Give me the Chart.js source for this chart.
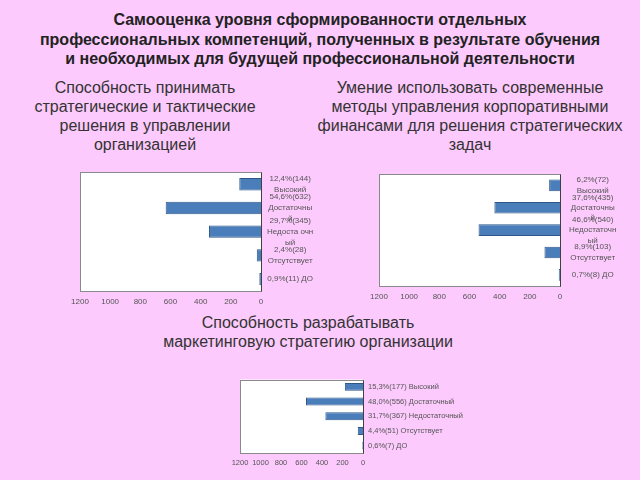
<!DOCTYPE html>
<html>
<head>
<meta charset="utf-8">
<script src="https://cdn.jsdelivr.net/npm/chart.js@4/dist/chart.umd.min.js"></script>
<style>
	html, body { margin: 0; padding: 0; }
	body { width: 640px; height: 480px; background: #fccafc; position: relative; overflow: hidden; font-family: 'Liberation Sans', Arial, sans-serif; color: #222; }
	.txt { position: absolute; text-align: center; white-space: nowrap; }
	.title { left: 0; width: 640px; top: 10px; font-size: 16px; font-weight: bold; line-height: 19.5px; }
	.sub { font-size: 16px; line-height: 19px; color: #333; }
	.box { position: absolute; }
</style>
</head>
<body>
<div class="txt title">Самооценка уровня сформированности отдельных<br>профессиональных компетенций, полученных в результате обучения<br>и необходимых для будущей профессиональной деятельности</div>
<div class="txt sub" style="left:23px; width:244px; top:78px;">Способность принимать<br>стратегические и тактические<br>решения в управлении<br>организацией</div>
<div class="txt sub" style="left:300px; width:340px; top:78px;">Умение использовать современные<br>методы управления корпоративными<br>финансами для решения стратегических<br>задач</div>
<div class="txt sub" style="left:138px; width:340px; top:313px;">Способность разрабатывать<br>маркетинговую стратегию организации</div>

<div class="box" style="left:66px; top:161px;"><canvas id="chart1" width="265" height="150"></canvas></div>
<div class="box" style="left:365px; top:160px;"><canvas id="chart2" width="270" height="146"></canvas></div>
<div class="box" style="left:226px; top:370px;"><canvas id="chart3" width="240" height="103"></canvas></div>

<script>
// tick values along the count axis (shown reversed, 1200 on the left)
var countTicks = [0, 200, 400, 600, 800, 1000, 1200];

// chart 1: strategic and tactical decisions
var labels1 = [
	['12,4%(144)', 'Высокий'],
	['54,6%(632)', 'Достаточны', 'й'],
	['29,7%(345)', 'Недоста очн', 'ый'],
	['2,4%(28)', 'Отсутствует'],
	'0,9%(11) ДО'
];
var values1 = [144, 632, 345, 28, 11];

// chart 2: corporate finance methods
var labels2 = [
	['6,2%(72)', 'Высокий'],
	['37,6%(435)', 'Достаточны', 'й'],
	['46,6%(540)', 'Недостаточн', 'ый'],
	['8,9%(103)', 'Отсутствует'],
	'0,7%(8) ДО'
];
var values2 = [72, 435, 540, 103, 8];

// chart 3: marketing strategy
var labels3 = [
	'15,3%(177) Высокий',
	'48,0%(556) Достаточный',
	'31,7%(367) Недостаточный',
	'4,4%(51) Отсутствует',
	'0,6%(7) ДО'
];
var values3 = [177, 556, 367, 51, 7];

// white plot area with a grey frame, like the office chart
var plotFrame = {
	id: 'plotFrame',
	beforeDatasetsDraw: function (chart) {
		var a = chart.chartArea;
		var ctx = chart.ctx;
		var l = Math.round(a.left) + 0.5, t = Math.round(a.top) + 0.5;
		var r = Math.round(a.right) + 0.5, b = Math.round(a.bottom) + 0.5;
		ctx.save();
		ctx.fillStyle = '#ffffff';
		ctx.fillRect(a.left, a.top, a.right - a.left, a.bottom - a.top);
		ctx.strokeStyle = '#8a8a8a';
		ctx.lineWidth = 1;
		ctx.strokeRect(l, t, r - l, b - t);
		// value axis line at zero
		ctx.strokeStyle = '#404040';
		ctx.beginPath();
		ctx.moveTo(r, t);
		ctx.lineTo(r, b);
		ctx.stroke();
		ctx.restore();
	}
};

function makeChart(id, labels, values, o) {
	var ctx = document.getElementById(id).getContext('2d');
	return new Chart(ctx, {
		type: 'bar',
		data: {
			labels: labels,
			datasets: [{
				data: values,
				backgroundColor: '#4a7ebb',
				borderColor: '#2f5686',
				borderWidth: 1,
				barPercentage: o.bar,
				categoryPercentage: 1
			}]
		},
		options: {
			indexAxis: 'y',
			responsive: false,
			animation: false,
			layout: { padding: { left: 14, top: 2, right: 0, bottom: 0 } },
			plugins: {
				legend: { display: false },
				tooltip: { enabled: false }
			},
			scales: {
				x: {
					reverse: true,
					min: 0,
					max: 1200,
					afterBuildTicks: function (scale) {
						scale.ticks = countTicks.map(function (v) { return { value: v }; });
					},
					grid: { display: false, drawTicks: false },
					border: { display: false },
					ticks: {
						color: '#555',
						font: { family: 'Liberation Sans', size: o.tickSize },
						padding: o.tickPad,
						maxRotation: 0,
						autoSkip: false,
						callback: function (value) { return String(value); }
					},
					afterFit: function (scale) { scale.height = o.xHeight; }
				},
				y: {
					position: 'right',
					grid: { display: false, drawTicks: false },
					border: { display: false },
					ticks: { color: '#555', font: { family: 'Liberation Sans', size: o.labelSize, lineHeight: o.labelLine }, padding: o.labelPad, crossAlign: o.align, autoSkip: false },
					afterFit: function (scale) { scale.width = o.yWidth; }
				}
			}
		},
		plugins: [plotFrame]
	});
}

makeChart('chart1', labels1, values1, { bar: 0.52, tickSize: 8, tickPad: 6, xHeight: 20, labelSize: 8, labelLine: 1.35, labelPad: 6, align: 'center', yWidth: 70 });
makeChart('chart2', labels2, values2, { bar: 0.52, tickSize: 8, tickPad: 6, xHeight: 20, labelSize: 8, labelLine: 1.3, labelPad: 9, align: 'center', yWidth: 75 });
makeChart('chart3', labels3, values3, { bar: 0.54, tickSize: 7.5, tickPad: 5, xHeight: 20, labelSize: 7.5, labelLine: 1.2, labelPad: 5, align: 'near', yWidth: 103 });
</script>
</body>
</html>
